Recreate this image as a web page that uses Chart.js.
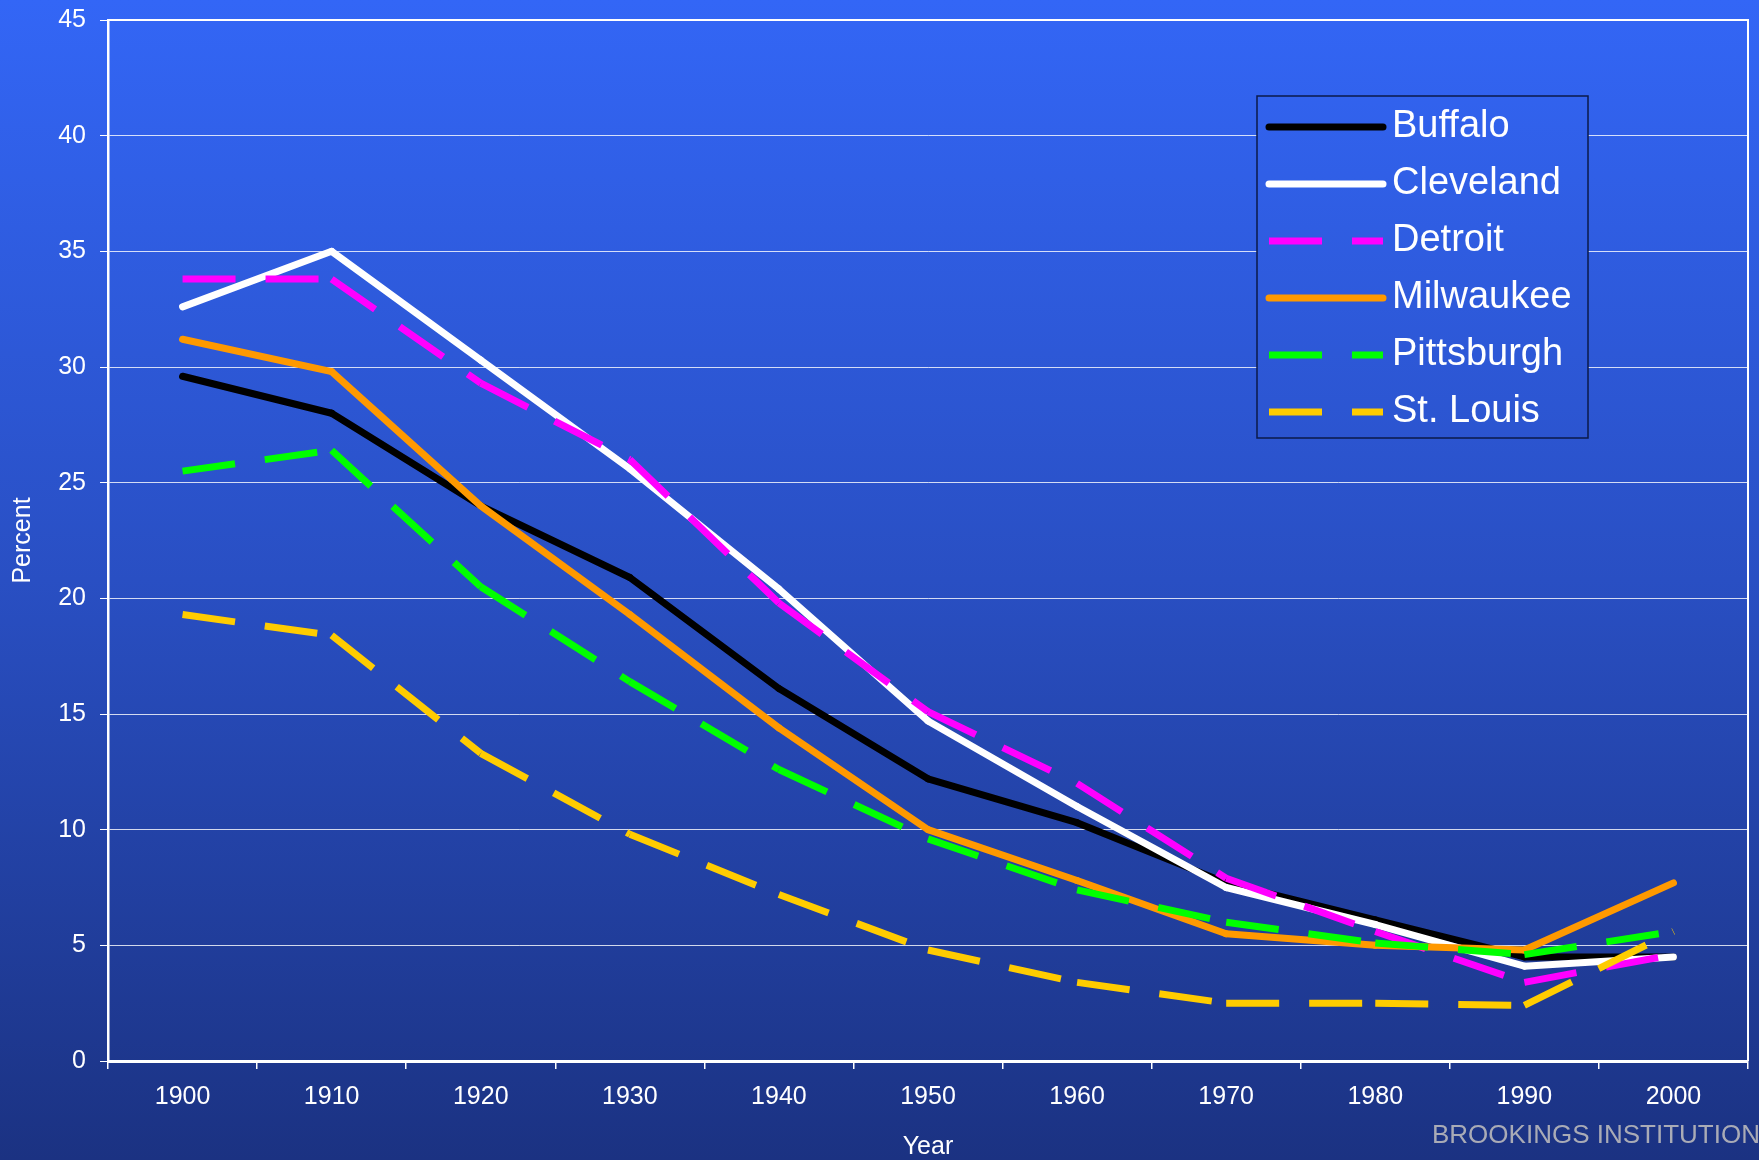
<!DOCTYPE html>
<html>
<head>
<meta charset="utf-8">
<script src="https://cdn.jsdelivr.net/npm/chart.js@4.4.1/dist/chart.umd.min.js"></script>
<style>
  html, body { margin: 0; padding: 0; overflow: hidden; background: #1b3282; }
  #wrap { width: 1759px; height: 1160px; position: relative; }
</style>
</head>
<body>
<div id="wrap"><canvas id="line-Chart"></canvas></div>
<script>
// Census years on the x axis
const years = ['1900', '1910', '1920', '1930', '1940', '1950', '1960', '1970', '1980', '1990', '2000'];

// Percent
const buffalo    = [29.6, 28.0, 24.0, 20.9, 16.1, 12.2, 10.3, 7.7, 6.1, 4.5, 4.5];
const cleveland  = [32.6, 35.0, 30.3, 25.6, 20.4, 14.7, 11.0, 7.5, 5.9, 4.1, 4.5];
const detroit    = [33.8, 33.8, 29.3, 26.0, 19.8, 15.1, 12.0, 7.9, 5.6, 3.4, 4.6];
const milwaukee  = [31.2, 29.8, 24.0, 19.3, 14.4, 10.0, 7.8, 5.5, 5.0, 4.8, 7.7];
const pittsburgh = [25.5, 26.4, 20.5, 16.4, 12.6, 9.6, 7.4, 6.0, 5.1, 4.6, 5.6];
const stLouis    = [19.3, 18.4, 13.3, 9.8, 7.2, 4.8, 3.4, 2.5, 2.5, 2.4, 5.6];

const cityNames = ['Buffalo', 'Cleveland', 'Detroit', 'Milwaukee', 'Pittsburgh', 'St. Louis'];
const yTicks = { min: 0, max: 45, step: 5 };

const FONT = "'Liberation Sans', Arial, Helvetica, sans-serif";
const DASH = [53, 30];

function bgGradient(ctx, h) {
    const g = ctx.createLinearGradient(0, 0, 0, h);
    g.addColorStop(0, '#3366f6');
    g.addColorStop(0.5, '#294fc3');
    g.addColorStop(1, '#1b3282');
    return g;
}

// one dataset, solid or dashed; dashes restart at every vertex like the original
function series(label, values, color, dashed, idx) {
    return {
        label: label,
        data: values,
        borderColor: color,
        backgroundColor: color,
        borderWidth: 7,
        borderDash: dashed ? DASH : [],
        borderCapStyle: dashed ? 'butt' : 'round',
        borderJoinStyle: dashed ? 'miter' : 'round',
        pointRadius: 0,
        pointHoverRadius: 0,
        tension: 0,
        order: 10 - idx, // later series drawn on top
        segment: {
            borderDashOffset: ctx => ctx.p0DataIndex * 0.001
        }
    };
}

const backdrop = {
    id: 'backdrop',
    beforeDraw(chart) {
        const ctx = chart.ctx;
        ctx.save();
        ctx.fillStyle = bgGradient(ctx, chart.height);
        ctx.fillRect(0, 0, chart.width, chart.height);
        ctx.restore();
    },
    beforeDatasetsDraw(chart) {
        const a = chart.chartArea;
        const ctx = chart.ctx;
        ctx.save();
        ctx.strokeStyle = '#ffffff';
        ctx.lineWidth = 2;
        ctx.beginPath();
        ctx.moveTo(a.left, a.top);
        ctx.lineTo(a.right, a.top);
        ctx.lineTo(a.right, a.bottom);
        ctx.stroke();
        ctx.restore();
    },
    afterDraw(chart) {
        const ctx = chart.ctx;
        ctx.save();
        ctx.fillStyle = '#a9abb6';
        ctx.font = '26px ' + FONT;
        ctx.textBaseline = 'alphabetic';
        ctx.textAlign = 'left';
        ctx.fillText('BROOKINGS INSTITUTION', 1432, 1143);
        ctx.restore();
    }
};

// legend box sitting inside the plot, top right
const boxLegend = {
    id: 'boxLegend',
    afterDatasetsDraw(chart) {
        const ctx = chart.ctx;
        const a = chart.chartArea;
        const x = a.right - 491, y = a.top + 76, w = 331, h = 342;
        ctx.save();
        ctx.fillStyle = bgGradient(ctx, chart.height);
        ctx.fillRect(x, y, w, h);
        ctx.strokeStyle = '#0b1a4a';
        ctx.lineWidth = 1.5;
        ctx.strokeRect(x, y, w, h);
        chart.data.datasets.forEach((ds, i) => {
            const cy = y + 31 + i * 57;
            ctx.beginPath();
            ctx.strokeStyle = ds.borderColor;
            ctx.lineWidth = 7;
            ctx.setLineDash(ds.borderDash);
            ctx.lineCap = ds.borderCapStyle;
            ctx.moveTo(x + 12, cy);
            ctx.lineTo(x + 126, cy);
            ctx.stroke();
            ctx.setLineDash([]);
            ctx.fillStyle = '#ffffff';
            ctx.font = '38px ' + FONT;
            ctx.textBaseline = 'middle';
            ctx.textAlign = 'left';
            ctx.fillText(ds.label, x + 135, cy);
        });
        ctx.restore();
    }
};

document.addEventListener('DOMContentLoaded', function () {
    const lineCtx = document.getElementById('line-Chart').getContext('2d');

    const data = {
        labels: years,
        datasets: [
            series(cityNames[0], buffalo, '#000000', false, 0),
            series(cityNames[1], cleveland, '#ffffff', false, 1),
            series(cityNames[2], detroit, '#ff00ff', true, 2),
            series(cityNames[3], milwaukee, '#ff9900', false, 3),
            series(cityNames[4], pittsburgh, '#00ff00', true, 4),
            series(cityNames[5], stLouis, '#ffcc00', true, 5)
        ]
    };

    const options = {
        responsive: true,
        maintainAspectRatio: false,
        animation: false,
        layout: { padding: { top: 20, right: 11, left: 0, bottom: 0 } },
        plugins: {
            legend: { display: false },
            tooltip: { enabled: false },
            title: { display: false }
        },
        scales: {
            x: {
                offset: true,
                afterFit(scale) {
                    scale.height = 99;
                    scale.paddingLeft = 0;
                    scale.paddingRight = 0;
                },
                grid: {
                    display: true,
                    offset: true,
                    drawOnChartArea: false,
                    drawTicks: true,
                    tickLength: 8,
                    color: '#ffffff',
                    lineWidth: 1.5
                },
                border: { display: true, color: '#ffffff', width: 3 },
                ticks: {
                    color: '#ffffff',
                    padding: 13,
                    maxRotation: 0,
                    autoSkip: false,
                    font: { family: FONT, size: 25 }
                },
                title: {
                    display: true,
                    text: 'Year',
                    color: '#ffffff',
                    padding: { top: 0, bottom: 0 },
                    font: { family: FONT, size: 25, lineHeight: 1 }
                }
            },
            y: {
                min: yTicks.min,
                max: yTicks.max,
                afterFit(scale) {
                    scale.width = 108;
                    scale.paddingTop = 0;
                    scale.paddingBottom = 0;
                },
                grid: {
                    color: 'rgba(255,255,255,0.8)',
                    lineWidth: 1,
                    tickLength: 8,
                    tickColor: '#ffffff'
                },
                border: { display: true, color: '#ffffff', width: 2.5 },
                ticks: {
                    stepSize: yTicks.step,
                    color: '#ffffff',
                    padding: 14,
                    font: { family: FONT, size: 25 }
                },
                title: {
                    display: true,
                    text: 'Percent',
                    color: '#ffffff',
                    padding: { top: 8, bottom: 0 },
                    font: { family: FONT, size: 25 }
                }
            }
        }
    };

    new Chart(lineCtx, {
        type: 'line',
        data: data,
        options: options,
        plugins: [backdrop, boxLegend]
    });
});
</script>
</body>
</html>
